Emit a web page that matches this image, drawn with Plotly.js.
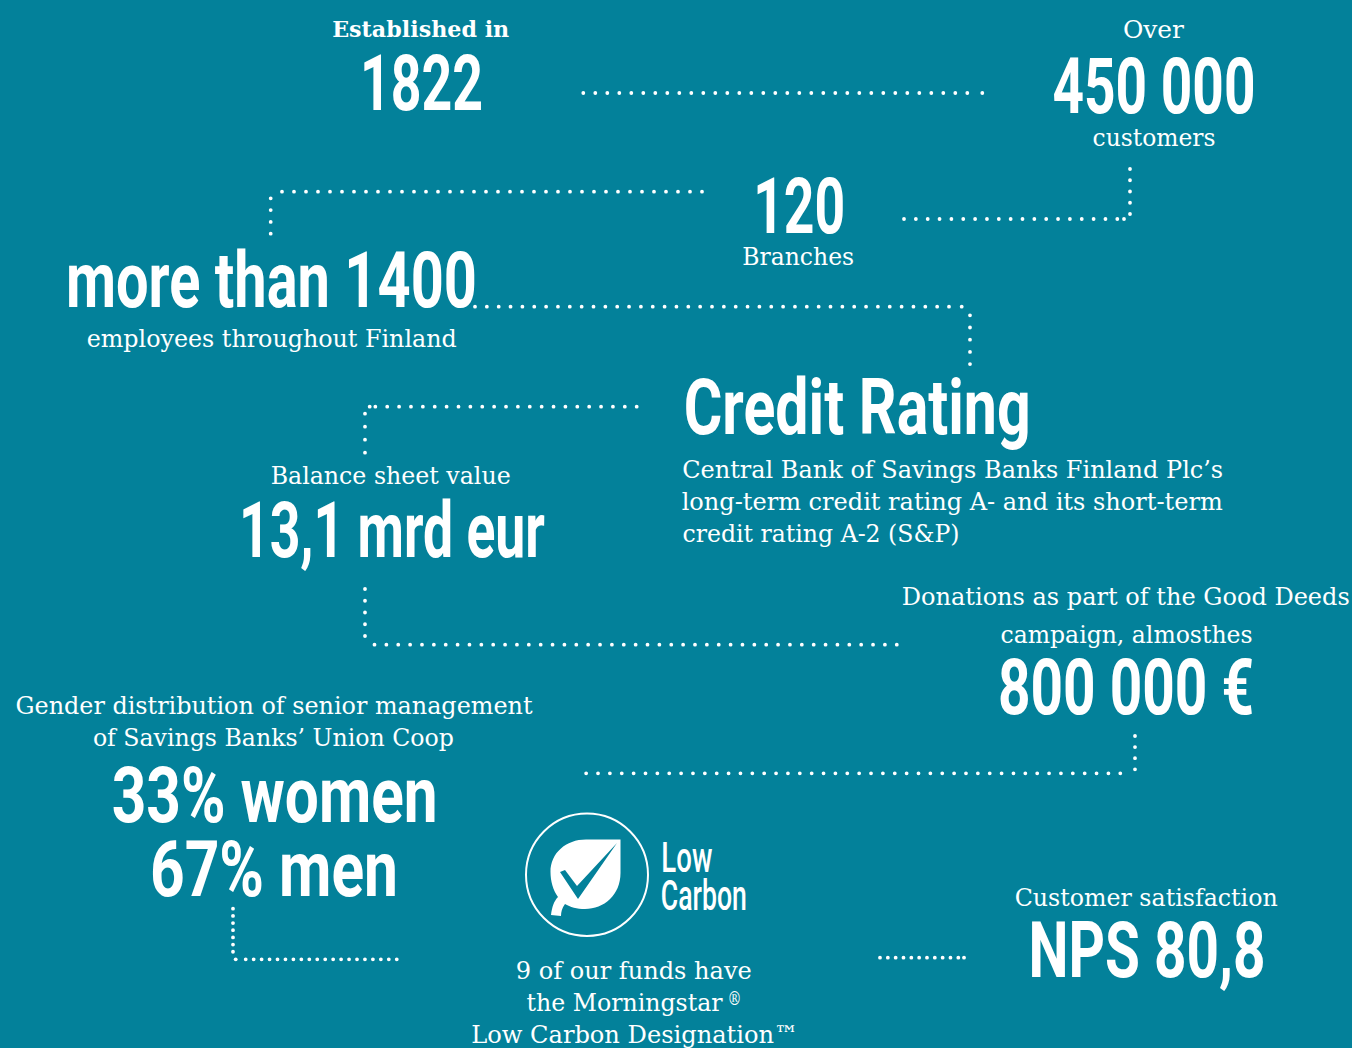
<!DOCTYPE html>
<html><head><meta charset="utf-8">
<script src="https://cdn.plot.ly/plotly-3.0.1.min.js"></script>
<style>html,body{margin:0;padding:0;background:#03819a}#c{width:1352px;height:1048px}.js-line{stroke-linecap:round}</style>
</head><body><div id="c"></div>
<script>
const BG = '#03819a', W = '#ffffff';
const HEAD = 'Roboto,sans-serif';
const BODY = '"DejaVu Serif",serif';

// big headline figures
const bigText  = ['1822','450 000','120','more than 1400','Credit Rating','13,1 mrd eur','800 000 €','33% women','67% men','NPS 80,8'];
const bigX     = [421.5,1153.5,799,271.5,856.5,392,1126,274,274,1146.5];
const bigY     = [83,86,206,280,407,530,687,795,869,950];
const bigWidth = [123,203,92,411,347,306,256,326,248,237];

const logoText  = ['Low','Carbon'];
const logoX     = [686.5,704];
const logoY     = [857,895];
const logoWidth = [51,86];

// small captions
const capText = ['Established in','Over','customers','Branches','employees throughout Finland','Balance sheet value',
  'Central Bank of Savings Banks Finland Plc’s','long-term credit rating A- and its short-term','credit rating A-2 (S&P)',
  'Donations as part of the Good Deeds','campaign, almosthes','Gender distribution of senior management',
  'of Savings Banks’ Union Coop','9 of our funds have','the Morningstar','Low Carbon Designation™','Customer satisfaction'];
const capX = [420.5,1153.5,1153.5,798,271,390,952.5,952.5,820.5,1126,1126,273.5,273.5,634,625,634.5,1145.5];
const capY = [28,30,138,257,339,476,470,502,534,597,635,706,738,971,1003,1035,898];
const capWidth = [177,61,123,112,370,240,541,541,277,448,252,517,361,236,196,327,263];

// registered mark, set small and raised
const markText = ['®'];
const markX = [734.5];
const markY = [998];
const markWidth = [14];

// dotted connectors, one entry per straight run
const dotX = [[583.3,967.5],[982.3,982.6],
  [904,1117.5],[1124,1124.3],[1130,1130],
  [702,277.5],[270.7,270.7],
  [475,949.8],[961.7,962],[970,970],
  [636.7,374.6],[369.7,369.4],[365,365],
  [365,365],[374.5,897.3],
  [1135,1135],[1120.3,585.6],
  [233,233],[235.7,236],[245.7,397.3],
  [880,958.9],[964,964.3]];
const dotY = [[93,93],[93,93],
  [219,219],[219,219],[169,214.6],
  [191.7,191.7],[198.3,234.4],
  [306.7,306.7],[306.7,306.7],[315.3,364.6],
  [406.7,406.7],[406.7,406.7],[413.7,453.3],
  [589,636.6],[644.7,644.7],
  [736,769.9],[773.3,773.3],
  [908.7,952.3],[959.3,959.3],[959.3,959.3],
  [957.7,957.7],[957.7,957.7]];
const dotGap = [12,12, 11.85,12,11.25, 12,11.8, 11.85,12,12.2, 11.88,12,13, 11.75,11.87, 11.1,11.87, 7.17,8,7.95, 7.83,8];

const traces = dotX.map((xs,i)=>({type:'scatter',mode:'lines',x:xs,y:dotY[i],hoverinfo:'skip',
  line:{color:W,width:3.8,dash:'0.01px,'+(dotGap[i]-0.01)+'px'}}));

const ann = (text,x,y,width,size,family,weight)=>({text,x,y,xref:'x',yref:'y',showarrow:false,
  xanchor:'center',yanchor:'middle',font:{size,family,color:W,weight},_fit:width});
const specs = [
  ...bigText.map((t,i)=>ann(t,bigX[i],bigY[i],bigWidth[i],78,HEAD,700)),
  ...logoText.map((t,i)=>ann(t,logoX[i],logoY[i],logoWidth[i],42,HEAD,500)),
  ...capText.map((t,i)=>ann(t,capX[i],capY[i],capWidth[i],i===0?23:24,BODY,i===0?700:400)),
  ...markText.map((t,i)=>ann(t,markX[i],markY[i],markWidth[i],19,BODY,400))
];
const fit = specs.map(a=>a._fit);
const annotations = specs.map(({_fit,...a})=>a);

const shapes = [
 {type:'circle',xref:'x',yref:'y',x0:526,x1:648,y0:813.5,y1:936,line:{color:W,width:2}},
 {type:'path',xref:'x',yref:'y',fillcolor:W,line:{width:0},
  path:'M620.5,839.5 L620.5,873 C620.5,895 604,909 585,909 C577,909 570,907 565,904 C562,908 561,912 561,916 L551,915 C552,907 554,901 558,897 C553,890 550.5,881 550.5,872 C550.5,853 566,839.5 586,839.5 Z'},
 {type:'path',xref:'x',yref:'y',fillcolor:BG,line:{width:0},
  path:'M617,843 L578,899 L560,872 L565,870 L577,886 Z'}
];

Plotly.newPlot('c',traces,{
  width:1352,height:1048,margin:{l:0,r:0,t:0,b:0},showlegend:false,
  paper_bgcolor:BG,plot_bgcolor:BG,
  xaxis:{range:[0,1352],visible:false,fixedrange:true},
  yaxis:{range:[1048,0],visible:false,fixedrange:true},
  annotations,shapes
},{displayModeBar:false,staticPlot:true}).then(()=>{
  document.querySelectorAll('.annotation').forEach(g=>{
    const i = +g.getAttribute('data-index');
    const t = g.querySelector('text.annotation-text');
    if(t){ t.setAttribute('textLength',fit[i]); t.setAttribute('lengthAdjust','spacingAndGlyphs'); }
  });
});
</script></body></html>
